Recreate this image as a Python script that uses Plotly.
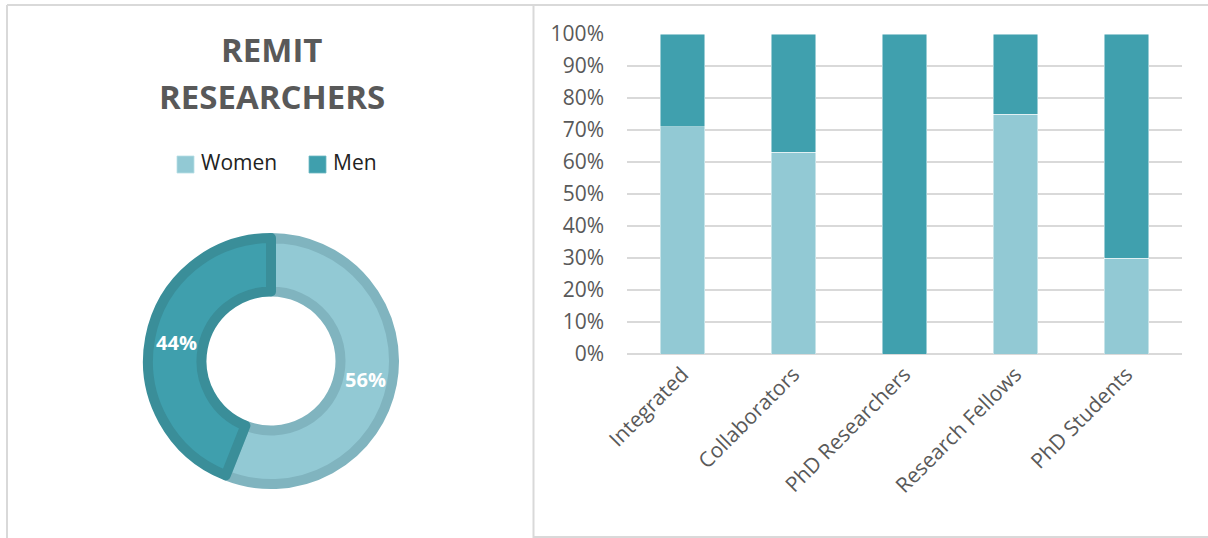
import plotly.graph_objects as go

W, H = 1208, 538

# ---- data ----
pie_labels = ["Women", "Men"]
pie_values = [56, 44]
pie_fill = ["#92C9D4", "#3F9FAD"]
pie_edge = ["#80B4BF", "#3A8E99"]

categories = ["Integrated", "Collaborators", "PhD Researchers", "Research Fellows", "PhD Students"]
women_pct = [71, 63, 0, 75, 30]
men_pct = [29, 37, 100, 25, 70]
bar_colors = {"Women": "#92C9D4", "Men": "#40A0AE"}

title_lines = ["REMIT", "RESEARCHERS"]

FONT = "Open Sans"
GRAY = "#595959"
BORDER = "#D9D9D9"


def px(x):
    return x / W


def py(y):
    return 1 - y / H


fig = go.Figure()

# donut
cx, cy, r_path, lw = 271, 361, 123, 10
inner_visible = 64.5
hole = (inner_visible + lw / 2) / r_path
fig.add_trace(go.Pie(
    labels=pie_labels, values=pie_values, sort=False, direction="clockwise", rotation=0,
    hole=hole,
    marker=dict(colors=pie_fill, line=dict(color=pie_edge, width=lw)),
    textinfo="percent", texttemplate="%{percent:.0%}", textposition="inside",
    insidetextorientation="horizontal",
    textfont=dict(family=FONT, size=20, color="white", weight="bold"),
    domain=dict(x=[px(cx - r_path), px(cx + r_path)], y=[py(cy + r_path), py(cy - r_path)]),
    showlegend=False, hoverinfo="label+percent",
))

# stacked bars
fig.add_trace(go.Bar(x=categories, y=women_pct, name="Women", marker=dict(color=bar_colors["Women"], line=dict(color="rgba(255,255,255,0.6)", width=0.8)), showlegend=False))
fig.add_trace(go.Bar(x=categories, y=men_pct, name="Men", marker=dict(color=bar_colors["Men"], line=dict(color="rgba(255,255,255,0.6)", width=0.8)), showlegend=False))

fig.update_layout(
    width=W, height=H, margin=dict(l=0, r=0, t=0, b=0, autoexpand=False),
    paper_bgcolor="white", plot_bgcolor="white",
    barmode="stack", bargap=0.595, showlegend=False,
    font=dict(family=FONT, color=GRAY),
    xaxis=dict(domain=[px(627), px(1182)], tickangle=-45, showgrid=False, automargin=False,
               tickfont=dict(family=FONT, size=21, color=GRAY), ticks="", showline=False,
               ticklabelstandoff=3),
    yaxis=dict(domain=[py(354), py(34)], range=[0, 100], dtick=10, ticksuffix="%", automargin=False,
               showgrid=True, gridcolor=BORDER, gridwidth=1.5, zeroline=True, zerolinecolor=BORDER,
               zerolinewidth=1.5, tickfont=dict(family=FONT, size=21, color=GRAY), ticklabelstandoff=22),
)

# title
fig.add_annotation(x=px(271.5), y=py(50), xref="paper", yref="paper", text=title_lines[0], showarrow=False,
                   font=dict(family=FONT, size=33, color=GRAY, weight="bold"), xanchor="center", yanchor="middle")
fig.add_annotation(x=px(271.5), y=py(97), xref="paper", yref="paper", text=title_lines[1], showarrow=False,
                   font=dict(family=FONT, size=33, color=GRAY, weight="bold"), xanchor="center", yanchor="middle")

# manual legend
leg = [(177, "Women", 0), (309, "Men", 1)]
for x0, name, i in leg:
    fig.add_shape(type="rect", xref="paper", yref="paper", x0=px(x0), x1=px(x0 + 17), y0=py(173), y1=py(156),
                  fillcolor=pie_fill[i], line=dict(color="#B8E0E6" if i == 0 else "#6FB9C3", width=0.8))
    fig.add_annotation(x=px(x0 + 22), y=py(162.5), xref="paper", yref="paper", text=name, showarrow=False,
                       xanchor="left", yanchor="middle", font=dict(family=FONT, size=21, color="#222222"))

# panel borders
for (x0, y0, x1, y1) in [(7, 5, W, 5), (7, 5, 7, H), (533.5, 5, 533.5, H), (533.5, 537, W, 537)]:
    fig.add_shape(type="line", xref="paper", yref="paper", x0=px(x0), y0=py(y0), x1=px(x1), y1=py(y1),
                  line=dict(color=BORDER, width=2))

fig.write_html("out.html")
